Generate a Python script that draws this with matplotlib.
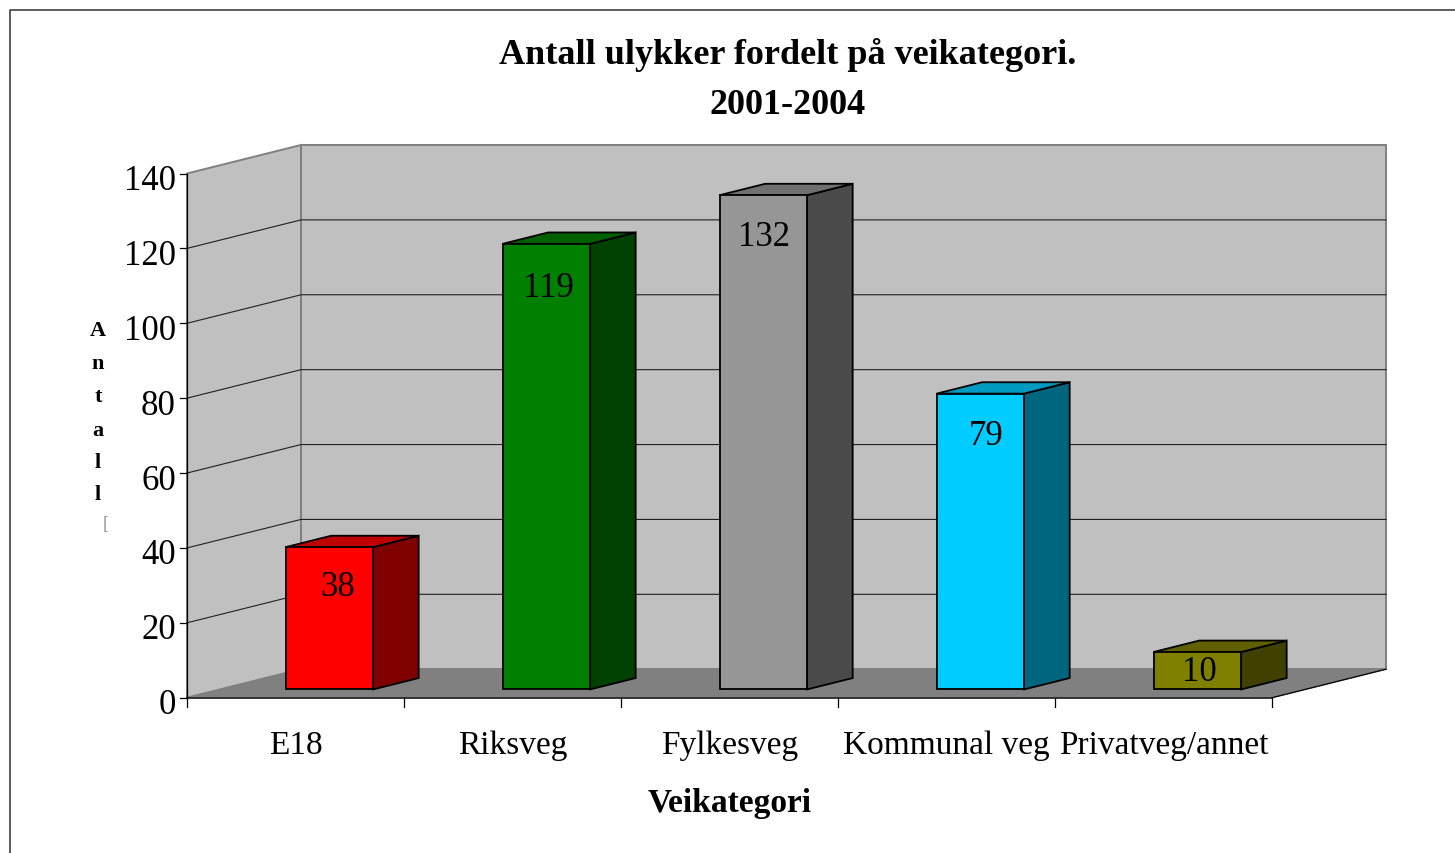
import matplotlib
matplotlib.use('Agg')
import matplotlib.pyplot as plt
from matplotlib.patches import Polygon

# data
kategorier = ['E18', 'Riksveg', 'Fylkesveg', 'Kommunal veg', 'Privatveg/annet']
antall = [38, 119, 132, 79, 10]
farger = ['#ff0000', '#008000', '#969696', '#00ccff', '#808000']
topp = ['#bf0000', '#006000', '#707070', '#0099bf', '#606000']
mork = ['#800000', '#004000', '#4b4b4b', '#006680', '#404000']
y_ticks = [0, 20, 40, 60, 80, 100, 120, 140]

plt.rcParams['font.family'] = ['Liberation Serif', 'DejaVu Serif']

W, H = 1455, 854
fig = plt.figure(figsize=(W / 100, H / 100), dpi=100, facecolor='white')

# frontplanet i piksler
x0, x1, ytop, ybot = 187, 1272, 174.5, 698.7
ax = fig.add_axes([x0 / W, 1 - ybot / H, (x1 - x0) / W, (ybot - ytop) / H])
ax.set_xlim(0, len(kategorier))
ax.set_ylim(0, 140)
ax.axis('off')

px_x = (x1 - x0) / len(kategorier)
px_y = (ybot - ytop) / 140
DX = 114 / px_x
DY = 28.5 / px_y


def p(x, y, d=0.0):
    # d = dybde, 0 foran og 1 bakerst
    return (x + DX * d, y + DY * d)


def flate(punkter, farge, z=1, lw=1.0, ec='black'):
    ax.add_patch(Polygon(punkter, closed=True, fc=farge, ec=ec, lw=lw, zorder=z, clip_on=False))


n = len(kategorier)
# vegger og gulv
flate([p(0, 0, 1), p(n, 0, 1), p(n, 140, 1), p(0, 140, 1)], '#c0c0c0', 1, lw=1.4, ec='#808080')
flate([p(0, 0, 0), p(0, 0, 1), p(0, 140, 1), p(0, 140, 0)], '#c0c0c0', 1, lw=1.4, ec='#808080')
flate([p(0, 0, 0), p(n, 0, 0), p(n, 0, 1), p(0, 0, 1)], '#808080', 1, lw=1.0, ec='#808080')
ax.plot(*zip(p(n, 0, 0), p(n, 0, 1)), color='black', lw=0.9, zorder=2, clip_on=False)

for t in y_ticks[1:-1]:
    ax.plot(*zip(p(0, t, 0), p(0, t, 1), p(n, t, 1)), color='#202020', lw=0.8, zorder=2, clip_on=False)

# akser
ax.plot([0, 0], [0, 140], color='black', lw=0.9, zorder=3, clip_on=False)
ax.plot([0, n], [0, 0], color='#202020', lw=1.2, zorder=3, clip_on=False)
for t in y_ticks:
    ax.plot([-7 / px_x, 0], [t, t], color='black', lw=0.9, zorder=3, clip_on=False)
    ax.text(-11 / px_x, t - 15.5 / px_y, str(t), ha='right', va='baseline', fontsize=25)
for i in range(n + 1):
    ax.plot([i, i], [0, -9 / px_y], color='black', lw=0.9, zorder=3, clip_on=False)

# stolper
bredde = 87.5 / px_x
venstre = 65.5 / px_x
d_foran = 0.29
d_bak = 0.69
# plassering av tallene i forhold til stolpen, piksler
tall_dx = [8, 2, 1, 6, 2]
tall_dy = [48, 52, 50, 50, 28]
for i, (v, f, t, m) in enumerate(zip(antall, farger, topp, mork)):
    a = i + venstre
    b = a + bredde
    flate([p(b, 0, d_foran), p(b, 0, d_bak), p(b, v, d_bak), p(b, v, d_foran)], m, 4, lw=1.3)
    flate([p(a, v, d_foran), p(b, v, d_foran), p(b, v, d_bak), p(a, v, d_bak)], t, 4, lw=1.3)
    flate([p(a, 0, d_foran), p(b, 0, d_foran), p(b, v, d_foran), p(a, v, d_foran)], f, 5, lw=1.3)
    tx, ty = p(a + bredde / 2, v, d_foran)
    ax.text(tx + tall_dx[i] / px_x, ty - tall_dy[i] / px_y, str(v), ha='center', va='baseline', fontsize=25, zorder=6)

for i, k in enumerate(kategorier):
    ax.text(i + 0.5, -55 / px_y, k, ha='center', va='baseline', fontsize=24)

# tekster
fig.text(788 / W, 1 - 80 / H, 'Antall ulykker fordelt på veikategori.\n2001-2004', ha='center', va='center',
         fontsize=26, fontweight='bold', linespacing=1.72)
fig.text(730 / W, 1 - 812 / H, 'Veikategori', ha='center', va='baseline', fontsize=24, fontweight='bold')
for bokstav, ypx in zip('Antall', [331, 364, 397, 431, 463, 495]):
    fig.text(98 / W, 1 - ypx / H, bokstav, ha='center', va='center', fontsize=16, fontweight='bold')
fig.text(106 / W, 1 - 525 / H, '[', ha='center', va='center', fontsize=13, color='#909090')

# ramme, bare venstre og topp
fig.add_artist(plt.Line2D([9.5 / W, 9.5 / W, 1], [0, 1 - 11 / H, 1 - 11 / H], color='#303030', lw=1.1))

fig.savefig('out.png', dpi=100)
